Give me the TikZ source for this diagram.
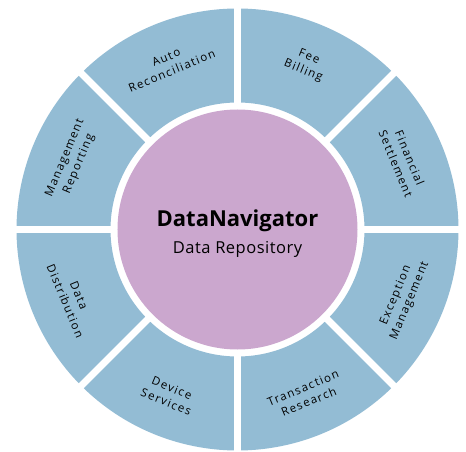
\documentclass[tikz,border=0pt]{standalone}
\usepackage{fontspec}
\setmainfont{Open Sans}
\newfontfamily\segfont[LetterSpace=12]{Open Sans}
\newfontfamily\subfont[LetterSpace=3]{Open Sans}
\usetikzlibrary{positioning}
\definecolor{ringblue}{RGB}{147,188,212}
\definecolor{hubpurple}{RGB}{203,167,206}
\tikzset{
  seglabel/.style = {align=center, inner sep=0pt,
                     font=\segfont\fontsize{11.5}{15}\selectfont},
  gapline/.style  = {white, line width=7pt},
  hubdisc/.style  = {circle, fill=hubpurple, inner sep=0pt, minimum size=240pt},
}

\begin{document}
\begin{tikzpicture}[x=1pt, y=1pt]
  \useasboundingbox (-237.5,-222.5) rectangle (228.5,229.5);

  % ring of eight segments
  \foreach \a in {0,45,...,315}
    \fill[ringblue] (\a:221) arc[start angle=\a, delta angle=45, radius=221]
      -- ({\a+45}:127) arc[start angle=\a+45, delta angle=-45, radius=127] -- cycle;
  \foreach \a in {0,45,...,315}
    \draw[gapline] (\a:120) -- (\a:226);

  % centre disc
  \node[hubdisc] (hub) at (0,0) {};
  \node[anchor=base, font=\fontsize{22}{26}\bfseries\selectfont]
    (hubtitle) at (0,2.5) {DataNavigator};
  \node[anchor=base, font=\subfont\fontsize{16.5}{20}\selectfont]
    (hubsub) at (0,-24.5) {Data Repository};

  % segment labels
  \foreach \a/\r/\txt [count=\i] in {
      112.5/22.5/{Auto\\Reconciliation},
      67.5/-22.5/{Fee\\Billing},
      22.5/-67.5/{Financial\\Settlement},
      -22.5/67.5/{Exception\\Management},
      -67.5/22.5/{Transaction\\Research},
      -112.5/-22.5/{Device\\Services},
      -157.5/-67.5/{Data\\Distribution},
      157.5/67.5/{Management\\Reporting}}
    \node[seglabel, rotate=\r] (seg\i) at (\a:179) {\txt};
\end{tikzpicture}
\end{document}
